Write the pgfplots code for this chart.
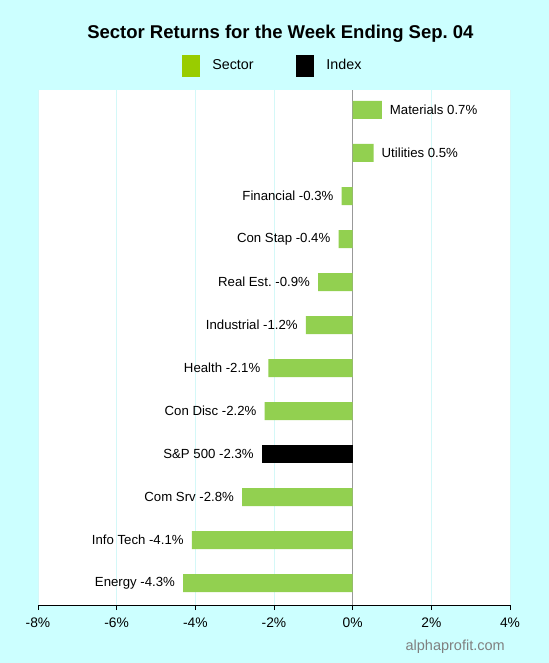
\documentclass[border=0pt]{standalone}
\usepackage{pgfplots}
\pgfplotsset{compat=1.18}
\usepackage{fontspec}
\setmainfont{Liberation Sans}
\usetikzlibrary{backgrounds}
\frenchspacing

\definecolor{bgcyan}{HTML}{CCFFFF}
\definecolor{gridcyan}{HTML}{D4F8F8}
\definecolor{bargreen}{HTML}{92D050}
\definecolor{leggreen}{HTML}{99CC00}
\definecolor{zerogray}{HTML}{999999}
\definecolor{markgray}{HTML}{808080}

\begin{document}
\begin{tikzpicture}
\begin{axis}[
    at={(0,0)}, anchor=south west,
    scale only axis,
    width=472pt, height=515pt,
    xmin=-8, xmax=4,
    ymin=-0.51, ymax=11.465,
    xtick={-8,-6,...,4},
    xticklabel={\pgfmathprintnumber{\tick}\%},
    /pgf/number format/assume math mode=true,
    xticklabel style={font=\fontsize{13.8pt}{16pt}\selectfont, anchor=base, yshift=-17.7pt},
    xtick style={black, thin},
    major tick length=5pt,
    tick align=outside,
    ytick=\empty,
    axis x line*=bottom,
    axis y line=none,
    x axis line style={black, thin, -},
    xmajorgrids,
    major grid style={gridcyan, line width=0.8pt},
    axis background/.style={fill=white},
    extra x ticks={0},
    extra x tick labels={},
    extra x tick style={grid=major, major grid style={zerogray, line width=1pt}, major tick length=0pt},
    xbar, bar width=18pt, bar shift=0pt,
    point meta=explicit symbolic,
    nodes near coords,
    every node near coord/.append style={font=\fontsize{13.2pt}{15pt}\selectfont, black, inner sep=0pt},
    legend columns=2,
    legend image code/.code={\fill[#1] (0pt,-10.5pt) rectangle (17pt,10.5pt);},
    legend style={draw=none, fill=none, at={(144pt,539.6pt)}, anchor=west,
        inner sep=0pt, font=\fontsize{14.3pt}{16pt}\selectfont,
        nodes={inner sep=0pt},
        /tikz/every odd column/.append style={column sep=12.7pt},
        /tikz/every even column/.append style={column sep=42.7pt}},
]
% positive sector returns, labels to the right
\addplot[fill=bargreen, draw=none, forget plot,
    every node near coord/.append style={anchor=west, xshift=8pt}]
coordinates {
    (0.74,11) [Materials 0.7\%]
    (0.53,10) [Utilities 0.5\%]
};
% negative sector returns, labels to the left
\addplot[fill=bargreen, draw=none, forget plot,
    every node near coord/.append style={anchor=east, xshift=-8pt}]
coordinates {
    (-0.28,9) [Financial -0.3\%]
    (-0.36,8) [Con Stap -0.4\%]
    (-0.88,7) [Real Est. -0.9\%]
    (-1.19,6) [Industrial -1.2\%]
    (-2.14,5) [Health -2.1\%]
    (-2.24,4) [Con Disc -2.2\%]
    (-2.81,2) [Com Srv -2.8\%]
    (-4.09,1) [Info Tech -4.1\%]
    (-4.31,0) [Energy -4.3\%]
};
% index
\addplot[fill=black, draw=none, forget plot,
    every node near coord/.append style={anchor=east, xshift=-8pt}]
coordinates {
    (-2.31,3) [S\&P 500 -2.3\%]
};
\addlegendimage{leggreen}
\addlegendentry{Sector}
\addlegendimage{black}
\addlegendentry{Index}
\end{axis}
\node[font=\bfseries\fontsize{18.5pt}{21pt}\selectfont, anchor=base]
    at ([xshift=6.4pt, yshift=51.3pt]current axis.north) {Sector Returns for the Week Ending Sep. 04};
\node[font=\fontsize{14.5pt}{16pt}\selectfont, text=markgray, anchor=base east]
    at ([xshift=-1.7pt, yshift=-45.7pt]current axis.south east) {alphaprofit.com};
\begin{scope}[on background layer]
\fill[bgcyan] ([xshift=-38pt, yshift=-58pt]current axis.south west)
    rectangle ([xshift=39pt, yshift=90pt]current axis.north east);
\end{scope}
\end{tikzpicture}
\end{document}
